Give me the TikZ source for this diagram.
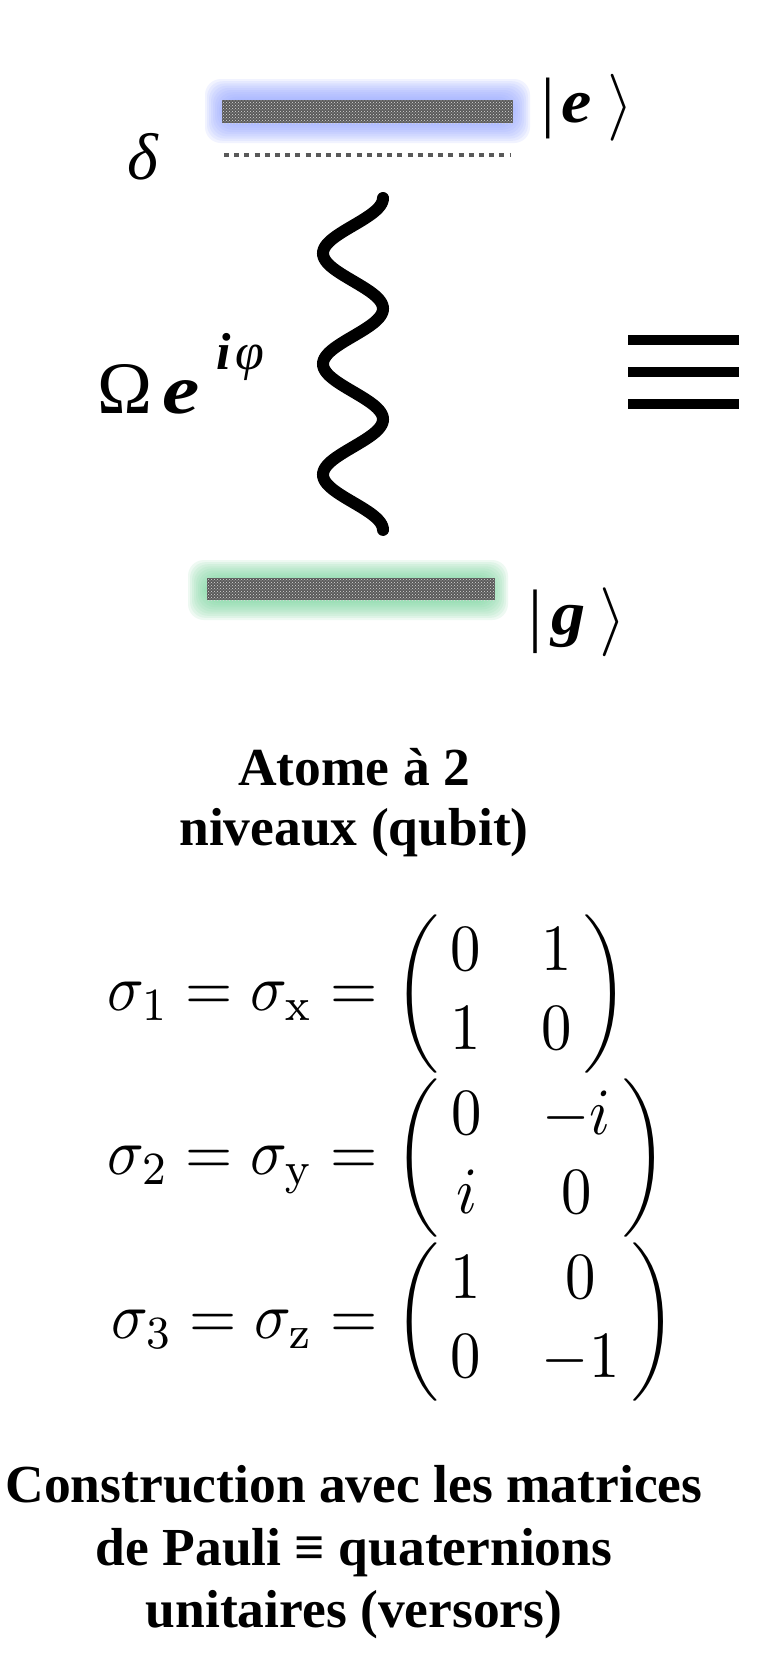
\documentclass[tikz,border=0pt]{standalone}
\usepackage{amsmath}
\usepackage{graphicx}
\usepackage[no-math]{fontspec}
\newfontfamily\tnr{Liberation Serif}
\usetikzlibrary{patterns}
\definecolor{blueglow}{RGB}{150,168,255}
\definecolor{greenglow}{RGB}{125,215,160}
\definecolor{bargray}{RGB}{90,90,90}
\tikzset{
  lbl/.style={inner sep=0pt, font=\tnr},
  capline/.style={inner sep=0pt, anchor=base, font={\tnr\bfseries\fontsize{53.5}{61}\selectfont}},
  eqn/.style={inner sep=0pt, anchor=west},
  wavy/.style={line width=12pt, line cap=round, black},
  dotline/.style={line width=4pt, black!65, dash pattern=on 5pt off 5.2pt},
  levelbar/.style={fill=bargray},
  levelspeck/.style={pattern=crosshatch dots, pattern color=white!85!black},
  idbar/.style={fill=black},
}
\newcommand{\padm}{\mskip3.5mu}
\begin{document}
\begin{tikzpicture}[x=1pt, y=-1pt]
\useasboundingbox[fill=white] (0,0) rectangle (772,1679);

% --- excited level |e> with blue glow
\foreach \i in {0,...,9}
  \fill[blueglow, opacity=0.13, rounded corners=16pt]
    (205+2*\i, 79+2.2*\i) rectangle (530-2*\i, 143-2.2*\i);
\fill[levelbar] (222,100) rectangle (513,123);
\fill[levelspeck] (222,100) rectangle (513,123);
\coordinate (dl) at (224,155);
\coordinate (dr) at (510,155);
\draw[dotline] (dl) -- (dr);

\node[lbl, font={\tnr\itshape\fontsize{66}{66}\selectfont}] (delta) at (143,157) {δ};
\node[lbl, font={\tnr\fontsize{67}{67}\selectfont}] (ebar) at (548,108) {|};
\node[lbl, font={\tnr\bfseries\itshape\fontsize{62}{62}\selectfont}] (eletter) at (577,108) {\scalebox{1.1}[1]{e}};
\node[lbl] (eket) at (621,108) {\scalebox{6.7}{$\rangle$}};

% --- ground level |g> with green glow
\foreach \i in {0,...,9}
  \fill[greenglow, opacity=0.13, rounded corners=16pt]
    (188+2*\i, 560+2.1*\i) rectangle (508-2*\i, 620-2.1*\i);
\fill[levelbar] (207,578) rectangle (495,600);
\fill[levelspeck] (207,578) rectangle (495,600);

\node[lbl, font={\tnr\fontsize{70}{70}\selectfont}] (gbar) at (536,622) {|};
\node[lbl, font={\tnr\bfseries\itshape\fontsize{62}{62}\selectfont}] (gletter) at (569,626) {\scalebox{1.1}[1]{g}};
\node[lbl] (gket) at (613,622) {\scalebox{6.9}{$\rangle$}};

% --- coupling wave
\draw[wavy] plot[domain=0:6, samples=181, smooth] ({353+30*cos(180*\x)}, {198+55.33*\x});

\node[lbl, anchor=base west] (omega) at (97,413)
  {{\fontsize{74}{74}\selectfont Ω}\hspace{10pt}{\bfseries\itshape\fontsize{70}{70}\selectfont\scalebox{1.2}[1]{e}}\hspace{17pt}\raisebox{44pt}{\fontsize{52}{52}\selectfont{\bfseries\itshape i}\hspace{5pt}{\itshape φ}}};

% --- identity sign
\fill[idbar] (628,335) rectangle (739,345);
\fill[idbar] (628,367) rectangle (739,377);
\fill[idbar] (628,399) rectangle (739,409);

% --- caption 1
\node[capline] (cap1a) at (354,785) {Atome à 2};
\node[capline] (cap1b) at (354,845) {niveaux (qubit)};

% --- Pauli matrices
\node[eqn] (eq1) at (107,994)
  {\scalebox{6.07}[6.6]{$\sigma_1 = \sigma_{\mathrm{x}} = \left(\padm\begin{matrix} 0 & 1\\ 1 & 0\end{matrix}\padm\right)$}};
\node[eqn] (eq2) at (107,1158)
  {\scalebox{6.07}[6.6]{$\sigma_2 = \sigma_{\mathrm{y}} = \left(\padm\begin{matrix} 0 & -i\\ i & 0\end{matrix}\padm\right)$}};
\node[eqn] (eq3) at (111,1322)
  {\scalebox{6.07}[6.6]{$\sigma_3 = \sigma_{\mathrm{z}} = \left(\padm\begin{matrix} 1 & 0\\ 0 & -1\end{matrix}\padm\right)$}};

% --- caption 2
\node[capline] (cap2a) at (354,1502) {Construction avec les matrices};
\node[capline] (cap2b) at (354,1565) {de Pauli ≡ quaternions};
\node[capline] (cap2c) at (354,1627) {unitaires (versors)};
\end{tikzpicture}
\end{document}
